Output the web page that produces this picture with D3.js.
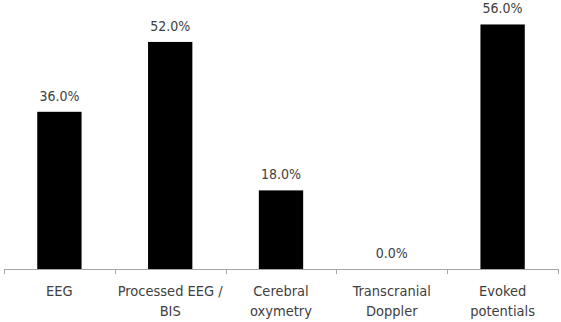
<!DOCTYPE html>
<html>
<head>
<meta charset="utf-8">
<script src="https://cdn.jsdelivr.net/npm/d3@7"></script>
<style>
  body { margin: 0; background: #fff; }
  text { font-family: "DejaVu Sans Condensed", "Open Sans", sans-serif; fill: #404040; }
</style>
</head>
<body>
<script>
var categories = [["EEG"], ["Processed EEG /", "BIS"], ["Cerebral", "oxymetry"], ["Transcranial", "Doppler"], ["Evoked", "potentials"]];
var values = [36.0, 52.0, 18.0, 0.0, 56.0];

var width = 561, height = 322;
var svg = d3.select("body").append("svg")
    .attr("width", width).attr("height", height);

var x = d3.scaleBand().domain(d3.range(values.length)).range([4, 558]);
var y = d3.scaleLinear().domain([0, 60]).range([269, 7]);
var barW = x.bandwidth() * 0.4;
var fmt = d3.format(".1f");

svg.selectAll("rect.bar")
    .data(values)
    .enter().append("rect")
    .attr("class", "bar")
    .attr("x", function(d, i) { return x(i) + x.bandwidth() / 2 - barW / 2; })
    .attr("width", barW)
    .attr("y", function(d) { return y(d); })
    .attr("height", function(d) { return y(0) - y(d); })
    .attr("fill", "#000");

// axis line + ticks at band edges
svg.append("line")
    .attr("x1", x.range()[0]).attr("x2", x.range()[1])
    .attr("y1", y(0) + 0.5).attr("y2", y(0) + 0.5)
    .attr("stroke", "#a6a6a6");
var edges = d3.range(values.length + 1).map(function(i) { return x.range()[0] + i * x.step(); });
svg.selectAll("line.tick")
    .data(edges)
    .enter().append("line")
    .attr("class", "tick")
    .attr("x1", function(d) { return Math.round(d) + 0.5; })
    .attr("x2", function(d) { return Math.round(d) + 0.5; })
    .attr("y1", y(0)).attr("y2", y(0) + 5)
    .attr("stroke", "#a6a6a6");

// value labels
svg.selectAll("text.val")
    .data(values)
    .enter().append("text")
    .attr("class", "val")
    .attr("x", function(d, i) { return x(i) + x.bandwidth() / 2; })
    .attr("y", function(d) { return y(d) - 11; })
    .attr("text-anchor", "middle")
    .attr("font-size", 14)
    .text(function(d) { return fmt(d) + "%"; });

// category labels
var cat = svg.selectAll("text.cat")
    .data(categories)
    .enter().append("text")
    .attr("class", "cat")
    .attr("text-anchor", "middle")
    .attr("font-size", 14.5);
cat.selectAll("tspan")
    .data(function(d, i) { return d.map(function(s) { return { s: s, i: i }; }); })
    .enter().append("tspan")
    .attr("x", function(d) { return x(d.i) + x.bandwidth() / 2; })
    .attr("y", function(d, j) { return 296 + j * 20; })
    .text(function(d) { return d.s; });
</script>
</body>
</html>
